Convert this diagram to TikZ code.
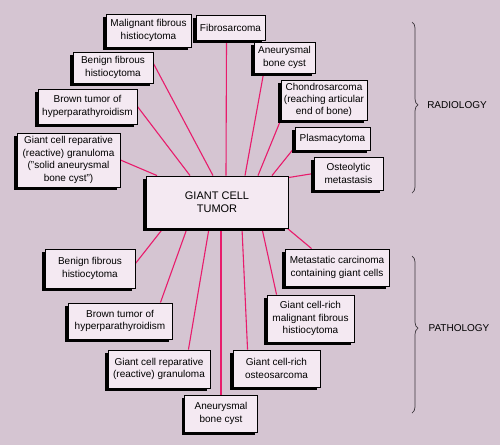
\documentclass[tikz,border=0pt]{standalone}
\usepackage{fontspec}
\setmainfont{Liberation Sans}
\usetikzlibrary{shadows,decorations.pathreplacing}
\definecolor{mauvebg}{RGB}{213,197,210}
\definecolor{boxpink}{RGB}{244,233,242}
\definecolor{linkred}{RGB}{232,28,108}
\definecolor{bracegray}{RGB}{60,54,60}
\pgfdeclarelayer{bg}
\pgfsetlayers{bg,main}

\begin{document}
\begin{tikzpicture}[x=1pt, y=-1pt,
  box/.style={draw, line width=0.9pt, fill=boxpink, align=center, inner sep=0pt,
    font=\fontsize{10}{12.4}\selectfont,
    drop shadow={shadow xshift=-3pt, shadow yshift=-3pt, opacity=1, fill=black}},
  hub/.style={box, font=\fontsize{11}{13.5}\selectfont},
  link/.style={linkred, line width=1.1pt},
  brc/.style={draw=bracegray, line width=0.7pt, decorate, decoration={brace, amplitude=6pt}},
  side/.style={font=\fontsize{10}{12}\selectfont}
]
\useasboundingbox (0,0) rectangle (500,445);

% centre
\node[hub, minimum width=142pt, minimum height=52pt] (gct) at (217,202) {GIANT CELL\\TUMOR};

% radiology
\node[box, minimum width=85pt, minimum height=33pt] (mfh) at (148.5,30.5) {Malignant fibrous\\histiocytoma};
\node[box, minimum width=69pt, minimum height=25pt] (fibro) at (230.5,27.5) {Fibrosarcoma};
\node[box, minimum width=80pt, minimum height=31pt] (bfh1) at (113,67.5) {Benign fibrous\\histiocytoma};
\node[box, minimum width=99pt, minimum height=35pt] (btu1) at (87.5,106.5) {Brown tumor of\\hyperparathyroidism};
\node[box, minimum width=103pt, minimum height=54pt] (gcrg1) at (68.5,160) {Giant cell reparative\\(reactive) granuloma\\("solid aneurysmal\\bone cyst")};
\node[box, minimum width=61pt, minimum height=31pt] (abc1) at (284.5,57.5) {Aneurysmal\\bone cyst};
\node[box, minimum width=86pt, minimum height=40pt] (chon) at (324,100) {Chondrosarcoma\\(reaching articular\\end of bone)};
\node[box, minimum width=75pt, minimum height=23pt] (plasma) at (332.5,138.5) {Plasmacytoma};
\node[box, minimum width=69pt, minimum height=33pt] (osteo) at (348.5,173.5) {Osteolytic\\metastasis};

% pathology
\node[box, minimum width=90pt, minimum height=39pt] (bfh2) at (90,268.5) {Benign fibrous\\histiocytoma};
\node[box, minimum width=104pt, minimum height=36pt] (btu2) at (120,321) {Brown tumor of\\hyperparathyroidism};
\node[box, minimum width=102pt, minimum height=38pt] (gcrg2) at (159,369) {Giant cell reparative\\(reactive) granuloma};
\node[box, minimum width=73pt, minimum height=37pt] (abc2) at (221,413.5) {Aneurysmal\\bone cyst};
\node[box, minimum width=104pt, minimum height=37pt] (meta) at (337,267.5) {Metastatic carcinoma\\containing giant cells};
\node[box, minimum width=87pt, minimum height=47pt] (gcmfh) at (310.5,318.5) {Giant cell-rich\\malignant fibrous\\histiocytoma};
\node[box, minimum width=87pt, minimum height=37pt] (gcos) at (276.5,368.5) {Giant cell-rich\\osteosarcoma};

% braces
\coordinate (radtop) at (412,22);
\coordinate (radbot) at (412,193);
\coordinate (pathtop) at (412,256);
\coordinate (pathbot) at (412,413);
\draw[brc, decoration={aspect=0.485}] (radtop) -- (radbot);
\draw[brc, decoration={aspect=0.46}] (pathtop) -- (pathbot);
\node[side] (radlbl) at (457,105) {RADIOLOGY};
\node[side] (pathlbl) at (459,328) {PATHOLOGY};

\begin{pgfonlayer}{bg}
\fill[mauvebg] (0,0) rectangle (500,445);
\draw[link] (gcrg1.east) -- ([xshift=-60pt]gct.north);
\draw[link] (btu1.east) -- ([xshift=-27pt]gct.north);
\draw[link] ([yshift=4pt]bfh1.east) -- ([xshift=-4pt]gct.north);
\draw[link] ([xshift=-4pt]fibro.south) -- ([xshift=9pt]gct.north);
\draw[link] ([xshift=10pt]abc1.south west) -- ([xshift=28pt]gct.north);
\draw[link] (chon.south west) -- ([xshift=41pt]gct.north);
\draw[link] ([yshift=3pt]plasma.south west) -- ([xshift=55pt]gct.north);
\draw[link] (osteo.west) -- ([yshift=-2pt]gct.north east);
\draw[link] ([yshift=5pt]bfh2.east) -- ([xshift=-54pt]gct.south);
\draw[link] ([xshift=-12pt]btu2.north east) -- ([xshift=-30pt]gct.south);
\draw[link] ([xshift=-22pt]gcrg2.north east) -- ([xshift=-8pt]gct.south);
\draw[link] (abc2.north) -- (abc2.north |- gct.south);
\draw[link] ([xshift=15pt]gcos.north west) -- ([xshift=25pt]gct.south);
\draw[link] ([xshift=10pt]gcmfh.north west) -- ([xshift=45pt]gct.south);
\draw[link] ([xshift=27pt]meta.north west) -- ([xshift=-1pt]gct.south east);
\end{pgfonlayer}
\end{tikzpicture}
\end{document}
